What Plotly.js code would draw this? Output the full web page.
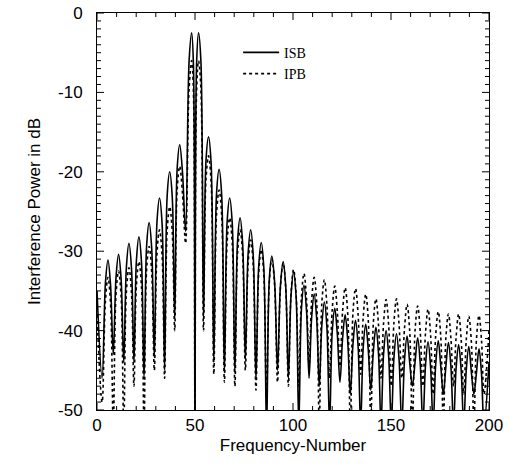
<!DOCTYPE html>
<html>
<head>
<meta charset="utf-8">
<script src="https://cdn.plot.ly/plotly-3.0.1.min.js"></script>
<style>html,body{margin:0;padding:0;background:#fff;}#chart{width:508px;height:468px;}</style>
</head>
<body>
<div id="chart"></div>
<script>
// Frequency numbers (nulls, lobe shoulders and lobe peaks)
const freq = [
  0, 2.6,
  4.3, 5.6, 6.9, 8.3,
  9.7, 11.0, 12.3, 13.65,
  15.0, 16.3, 17.6, 18.85,
  20.1, 21.4, 22.7, 24.0,
  25.3, 26.6, 27.9, 29.25,
  30.6, 31.9, 33.2, 34.5,
  35.8, 37.1, 38.4, 39.65,
  40.9, 42.2, 43.6, 45.2,
  47.0, 48.3, 49.2, 50.0,
  50.8, 51.8, 53.0, 54.35,
  55.6, 56.9, 58.2, 59.6,
  61.0, 62.3, 63.6, 65.0,
  66.4, 67.7, 69.0, 70.35,
  71.7, 73.0, 74.3, 75.7,
  77.1, 78.4, 79.7, 81.1,
  82.5, 83.8, 85.1, 86.5,
  87.9, 89.2, 90.6, 92.1,
  93.6, 95.0, 96.3, 97.65,
  99.0, 100.3, 101.6, 102.95,
  104.3, 105.6, 106.9, 108.2,
  109.5, 110.8, 112.1, 113.4,
  114.7, 116.0, 117.3, 118.65,
  120.0, 121.3, 122.6, 123.95,
  125.3, 126.6, 127.9, 129.25,
  130.6, 131.9, 133.2, 134.5,
  135.8, 137.1, 138.4, 139.7,
  141.0, 142.3, 143.6, 144.9,
  146.2, 147.5, 148.8, 150.15,
  151.5, 152.8, 154.1, 155.5,
  156.9, 158.2, 159.5, 160.9,
  162.3, 163.6, 164.9, 166.25,
  167.6, 168.9, 170.2, 171.5,
  172.8, 174.1, 175.4, 176.7,
  178.0, 179.3, 180.6, 181.9,
  183.2, 184.5, 185.8, 187.1,
  188.4, 189.7, 191.0, 192.3,
  193.6, 194.9, 196.2, 197.45,
  200
];

// ISB interference power in dB
const isb = [
  -35, -46,
  -34.0, -31.1, -34.2, -43,
  -33.3, -30.4, -33.5, -44,
  -32.0, -29.0, -32.2, -44,
  -31.2, -28.2, -31.4, -46,
  -29.4, -26.4, -29.6, -43.4,
  -26.3, -23.3, -26.5, -45,
  -23.0, -20.0, -23.2, -38.5,
  -19.6, -16.6, -20.0, -27.5,
  -6.0, -2.5, -6.5, -55,
  -6.5, -2.5, -6.0, -38.6,
  -18.6, -15.6, -18.8, -44,
  -22.7, -19.7, -22.9, -45.3,
  -26.3, -23.3, -26.5, -45.3,
  -28.8, -25.8, -29.0, -43.6,
  -30.3, -27.3, -30.5, -46.2,
  -31.9, -28.9, -32.1, -53,
  -33.6, -30.6, -33.8, -45,
  -34.3, -31.3, -34.5, -46,
  -35.6, -32.6, -35.8, -52,
  -37.3, -34.3, -37.5, -46,
  -38.4, -35.4, -38.6, -47,
  -39.4, -36.4, -39.6, -52,
  -40.2, -37.2, -40.4, -46.5,
  -41.0, -38.0, -41.2, -48,
  -41.7, -38.7, -41.9, -52,
  -42.2, -39.2, -42.4, -47.5,
  -42.6, -39.6, -42.8, -52,
  -43.0, -40.0, -43.2, -52,
  -43.4, -40.4, -43.6, -52,
  -43.7, -40.7, -43.9, -47,
  -43.9, -40.9, -44.1, -52,
  -44.4, -41.4, -44.6, -52,
  -44.3, -41.3, -44.5, -48,
  -44.5, -41.5, -44.7, -52,
  -44.8, -41.8, -45.0, -52,
  -45.0, -42.0, -45.2, -48,
  -45.3, -42.3, -45.5, -52,
  -44
];

// IPB interference power in dB
const ipb = [
  -38, -49,
  -36.3, -33.3, -36.5, -52,
  -35.5, -32.5, -35.7, -52,
  -35.1, -32.1, -35.3, -47,
  -34.3, -31.3, -34.5, -52,
  -32.4, -29.4, -32.6, -45,
  -30.3, -27.3, -30.5, -46,
  -27.4, -24.4, -27.6, -40,
  -22.3, -19.3, -22.7, -29,
  -9.5, -6.0, -10.0, -55,
  -10.0, -6.0, -9.5, -40,
  -21.0, -18.0, -21.2, -45.5,
  -25.3, -22.3, -25.5, -46.5,
  -28.8, -25.8, -29.0, -47,
  -30.3, -27.3, -30.5, -45,
  -31.6, -28.6, -31.8, -47.5,
  -32.8, -29.8, -33.0, -49,
  -34.0, -31.0, -34.2, -46.5,
  -34.5, -31.5, -34.7, -47,
  -35.3, -32.3, -35.5, -47,
  -35.8, -32.8, -36.0, -44.5,
  -36.3, -33.3, -36.5, -52,
  -36.6, -33.6, -36.8, -46,
  -37.4, -34.4, -37.6, -44.5,
  -37.6, -34.6, -37.8, -52,
  -37.7, -34.7, -37.9, -45.5,
  -38.4, -35.4, -38.6, -52,
  -39.0, -36.0, -39.2, -46,
  -39.1, -36.1, -39.3, -47,
  -39.0, -36.0, -39.2, -46,
  -39.7, -36.7, -39.9, -52,
  -39.9, -36.9, -40.1, -47,
  -40.3, -37.3, -40.5, -48,
  -40.6, -37.6, -40.8, -52,
  -40.9, -37.9, -41.1, -47,
  -40.9, -37.9, -41.1, -48,
  -41.2, -38.2, -41.4, -52,
  -41.1, -38.1, -41.3, -48,
  -40
];

const seriesNames = ['ISB', 'IPB'];

// tick positions and labels
const xMajorTicks = [0, 50, 100, 150, 200];
const xTickLabels = ['0', '50', '100', '150', '200'];
const xMinorTicks = [10, 20, 30, 40, 60, 70, 80, 90, 110, 120, 130, 140, 160, 170, 180, 190];
const yMajorTicks = [-50, -40, -30, -20, -10, 0];
const yTickLabels = ['-50', '-40', '-30', '-20', '-10', '0'];
const yMinorTicks = [-49, -48, -47, -46, -45, -44, -43, -42, -41,
                     -39, -38, -37, -36, -35, -34, -33, -32, -31,
                     -29, -28, -27, -26, -25, -24, -23, -22, -21,
                     -19, -18, -17, -16, -15, -14, -13, -12, -11,
                     -9, -8, -7, -6, -5, -4, -3, -2, -1];

const traces = [
  {x: freq, y: isb, name: seriesNames[0], type: 'scatter', mode: 'lines',
   line: {color: '#000', width: 1.6, shape: 'spline', smoothing: 1}},
  {x: freq, y: ipb, name: seriesNames[1], type: 'scatter', mode: 'lines',
   line: {color: '#000', width: 1.6, dash: 'dot', shape: 'spline', smoothing: 1}}
];

// inward tick marks on all four sides, placed through the axes' own scales
const tickLine = {color: '#000', width: 1};
function xTick(v, len, top) {
  return {type: 'line', xref: 'x', yref: 'paper', ysizemode: 'pixel', yanchor: top ? 1 : 0,
          x0: v, x1: v, y0: 0, y1: top ? -len : len, line: tickLine, layer: 'above'};
}
function yTick(v, len, right) {
  return {type: 'line', xref: 'paper', yref: 'y', xsizemode: 'pixel', xanchor: right ? 1 : 0,
          y0: v, y1: v, x0: 0, x1: right ? -len : len, line: tickLine, layer: 'above'};
}
const shapes = [];
[false, true].forEach(side => {
  xMajorTicks.forEach(v => shapes.push(xTick(v, 7, side)));
  xMinorTicks.forEach(v => shapes.push(xTick(v, 4, side)));
  yMajorTicks.forEach(v => shapes.push(yTick(v, 7, side)));
  yMinorTicks.forEach(v => shapes.push(yTick(v, 4, side)));
});

const axisFont = {family: 'Liberation Sans, Arial, sans-serif', size: 17, color: '#000'};

const layout = {
  width: 508, height: 468,
  margin: {l: 97, r: 19, t: 13, b: 58},
  paper_bgcolor: '#fff', plot_bgcolor: '#fff',
  showlegend: true,
  legend: {x: 0.36, xanchor: 'left', y: 0.94, yanchor: 'top',
           bgcolor: 'rgba(0,0,0,0)', borderwidth: 0,
           font: {family: 'Liberation Serif, Times New Roman, serif', size: 14, color: '#000'},
           tracegroupgap: 0, itemwidth: 36},
  shapes: shapes,
  xaxis: {
    range: [0, 200], tickmode: 'array', tickvals: xMajorTicks, ticktext: xTickLabels,
    showgrid: false, zeroline: false,
    showline: true, linecolor: '#000', linewidth: 1, mirror: true,
    ticks: '', tickfont: axisFont,
    title: {text: 'Frequency-Number', font: axisFont, standoff: 4}
  },
  yaxis: {
    range: [-50, 0], tickmode: 'array', tickvals: yMajorTicks, ticktext: yTickLabels,
    showgrid: false, zeroline: false,
    showline: true, linecolor: '#000', linewidth: 1, mirror: true,
    ticks: 'outside', ticklen: 10, tickcolor: 'rgba(0,0,0,0)', tickfont: axisFont,
    title: {text: 'Interference Power in dB', font: axisFont, standoff: 13}
  }
};

Plotly.newPlot('chart', traces, layout, {staticPlot: true, displayModeBar: false});
</script>
</body>
</html>
